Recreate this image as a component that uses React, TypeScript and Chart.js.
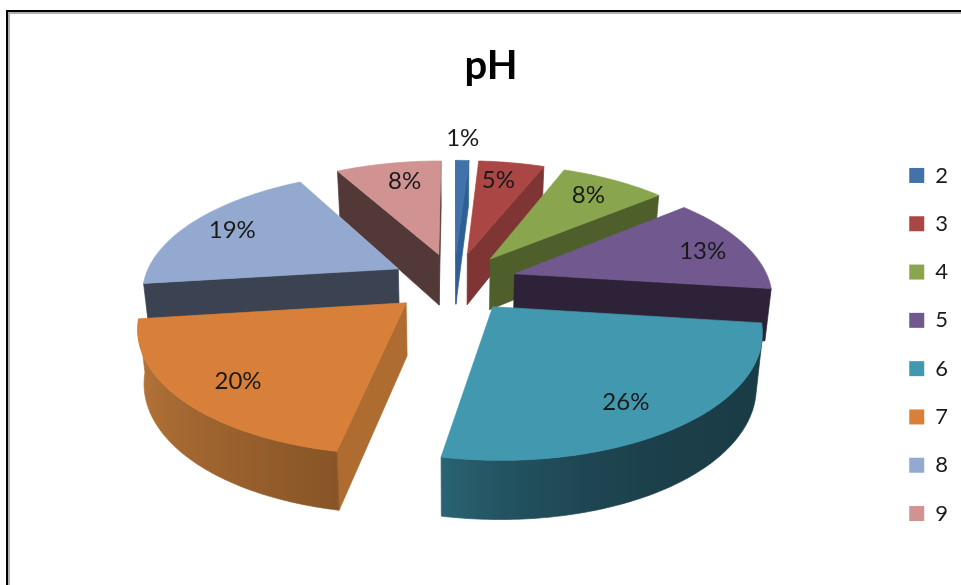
import React, { useEffect, useRef } from "react";
import { Chart, registerables } from "chart.js";

Chart.register(...registerables);

// ---- data ----
const categories = ["2", "3", "4", "5", "6", "7", "8", "9"];
const phShares = [1, 5, 8, 13, 26, 20, 19, 8];
const chartTitle = "pH";

// ---- colours ----
const topColors = ["#4272aa", "#aa4643", "#89a54e", "#71588f", "#4198af", "#d8803a", "#93a9cf", "#d19392"];
const cutColors = ["#2f5f96", "#7f3533", "#4e5f2c", "#2d2238", "#1a3c47", "#ae6c31", "#3b4252", "#533838"];
const wallStartColors = ["#2f5f96", "#7f3533", "#4e5f2c", "#2d2238", "#1a3c47", "#895526", "#3b4252", "#533838"];
const wallEndColors = ["#2f5f96", "#7f3533", "#4e5f2c", "#2d2238", "#2a6373", "#bf7b3d", "#3b4252", "#533838"];
const wallCurve = [1, 1, 1, 1, 4, 1, 1, 1];

// back-to-front painting order of the slices (by category index)
const paintOrder = [7, 0, 1, 2, 3, 6, 5, 4];

// small per-label nudges, in pixels, as the label layout of the original is not quite radial
const labelNudgeX = [-1, -5, -2, 6, -10, 4, -3, 7];
const labelNudgeY = [0, 0, 0, 2, 4, 4, 0, 1];

// ---- 3D view of the pie ----
const VIEW = {
  cx: 454, cy: 282, // centre of the pie on the page
  rx: 255, ry: 118, // projected radius
  persp: 0.17, // perspective strength toward the viewer
  explode: 0.25, // how far each slice is pulled out
  depth: 52, depthPersp: 6, taper: 0.02,
  labelRadius: 0.79, outerLabelRadius: 1.29,
};
const TITLE_SHIFT = 12;
const LEGEND_SHIFT = 52;

type P = [number, number];

function project(X: number, Y: number, z: number): P {
  const w = 1 - VIEW.persp * Y;
  const k = 1 - z * VIEW.taper;
  return [VIEW.cx + (VIEW.rx * X * k) / w, VIEW.cy + (VIEW.ry * Y) / w + z * (VIEW.depth + VIEW.depthPersp * Y)];
}

// angle is the library's canvas angle, which runs clockwise from the top of the pie
function slicePoint(angle: number, r: number, mid: number, z: number): P {
  const X = r * Math.cos(angle) + VIEW.explode * Math.cos(mid);
  const Y = r * Math.sin(angle) + VIEW.explode * Math.sin(mid);
  return project(X, Y, z);
}

function hex(c: string) {
  return [1, 3, 5].map((i) => parseInt(c.slice(i, i + 2), 16));
}
function mix(a: string, b: string, t: number) {
  const A = hex(a), B = hex(b);
  return `rgb(${A.map((v, i) => Math.round(v + (B[i] - v) * t)).join(",")})`;
}

function poly(ctx: CanvasRenderingContext2D, pts: P[], color: any) {
  ctx.beginPath();
  pts.forEach((p, i) => (i ? ctx.lineTo(p[0], p[1]) : ctx.moveTo(p[0], p[1])));
  ctx.closePath();
  ctx.fillStyle = color;
  ctx.strokeStyle = color;
  ctx.lineWidth = 0.7;
  ctx.fill();
  ctx.stroke();
}

function facesViewer(q: P[]) {
  let s = 0;
  for (let i = 0; i < q.length; i++) {
    const a = q[i], b = q[(i + 1) % q.length];
    s += a[0] * b[1] - b[0] * a[1];
  }
  return s < 0;
}

const pie3d = {
  id: "pie3d",
  afterLayout(chart: any) {
    chart.titleBlock.left += TITLE_SHIFT;
    chart.titleBlock.right += TITLE_SHIFT;
    chart.legend.top += LEGEND_SHIFT;
    chart.legend.bottom += LEGEND_SHIFT;
  },
  beforeDatasetDraw() {
    return false; // the arcs are painted by beforeDatasetsDraw below, in perspective
  },
  beforeDatasetsDraw(chart: any) {
    const ctx: CanvasRenderingContext2D = chart.ctx;
    const arcs = chart.getDatasetMeta(0).data;
    ctx.save();
    for (const i of paintOrder) {
      const { startAngle, endAngle } = arcs[i].getProps(["startAngle", "endAngle"], true);
      const mid = (startAngle + endAngle) / 2;
      const steps = Math.max(4, Math.ceil((endAngle - startAngle) * 60));
      const top: P[] = [slicePoint(0, 0, mid, 0)];
      const bottom: P[] = [slicePoint(0, 0, mid, 1)];
      for (let s = 0; s <= steps; s++) {
        const a = startAngle + ((endAngle - startAngle) * s) / steps;
        top.push(slicePoint(a, 1, mid, 0));
        bottom.push(slicePoint(a, 1, mid, 1));
      }
      const n = top.length;
      // hidden faces are skipped; the rest are painted cut faces first, then the rim
      for (const e of [0, n - 1]) {
        const f = (e + 1) % n;
        const q = [top[e], top[f], bottom[f], bottom[e]];
        if (facesViewer(q)) poly(ctx, q, cutColors[i]);
      }
      const seen: number[] = [];
      for (let e = 1; e <= n - 1; e++) {
        if (e < n - 1 && facesViewer([top[e], top[e + 1], bottom[e + 1], bottom[e]])) {
          seen.push(e);
          if (e + 1 === n - 1) seen.push(e + 1);
        } else if (seen.length && seen[seen.length - 1] === e - 1 && e < n) {
          seen.push(e);
        }
      }
      if (seen.length > 1) {
        const x0 = top[seen[0]][0];
        const x1 = top[seen[seen.length - 1]][0];
        const grad = ctx.createLinearGradient(x0, 0, x1, 0);
        for (let s = 0; s <= 12; s++) {
          const e = seen[Math.round(((seen.length - 1) * s) / 12)];
          const t = Math.pow((e - 1) / (n - 2), wallCurve[i]);
          const off = Math.min(1, Math.max(0, (top[e][0] - x0) / (x1 - x0 || 1)));
          grad.addColorStop(off, mix(wallStartColors[i], wallEndColors[i], t));
        }
        const pts = [...seen.map((e) => top[e]), ...seen.slice().reverse().map((e) => bottom[e])];
        poly(ctx, pts, grad);
      }
      poly(ctx, top, arcs[i].options.backgroundColor);
    }
    ctx.restore();
  },
  afterDatasetsDraw(chart: any) {
    const ctx: CanvasRenderingContext2D = chart.ctx;
    const arcs = chart.getDatasetMeta(0).data;
    const total = phShares.reduce((a, b) => a + b, 0);
    ctx.save();
    ctx.font = "24px Lato";
    ctx.fillStyle = "#1a1a1a";
    ctx.textAlign = "center";
    ctx.textBaseline = "middle";
    phShares.forEach((v, i) => {
      const { startAngle, endAngle } = arcs[i].getProps(["startAngle", "endAngle"], true);
      const mid = (startAngle + endAngle) / 2;
      const pct = Math.round((v / total) * 100);
      const r = pct < 2 ? VIEW.outerLabelRadius : VIEW.labelRadius;
      const p = slicePoint(mid, r, mid, 0);
      ctx.fillText(`${pct}%`, p[0] + labelNudgeX[i], p[1] + labelNudgeY[i]);
    });
    ctx.restore();
  },
};

export default function App() {
  const ref = useRef<HTMLCanvasElement>(null);
  useEffect(() => {
    const chart = new Chart(ref.current!, {
      type: "pie",
      data: {
        labels: categories,
        datasets: [{ data: phShares, backgroundColor: topColors, borderWidth: 0 }],
      },
      options: {
        animation: false,
        responsive: false,
        layout: { padding: { right: 24 } },
        plugins: {
          title: {
            display: true,
            text: chartTitle,
            color: "#000000",
            font: { family: "Lato", size: 40, weight: "bold" },
            padding: { top: 42, bottom: 13 },
          },
          legend: {
            position: "right",
            labels: {
              color: "#1a1a1a",
              font: { family: "Lato", size: 22 },
              boxWidth: 15,
              boxHeight: 15,
              padding: 26.3,
            },
          },
          tooltip: { enabled: false },
        },
      },
      plugins: [pie3d],
    } as any);
    return () => chart.destroy();
  }, []);
  return (
    <div style={{ position: "fixed", left: 0, top: 0, width: 961, height: 585, overflow: "hidden", background: "#fff" }}>
      <canvas ref={ref} width={982} height={585} style={{ position: "absolute", left: 0, top: 0 }} />
      <div style={{ position: "absolute", left: 6, top: 10, right: 0, bottom: 0, borderLeft: "2px solid #000", borderTop: "2px solid #000" }}>
        <div style={{ position: "absolute", left: 0, top: 0, right: 0, bottom: 0, borderLeft: "2px solid #b0b0b0", borderTop: "2px solid #b0b0b0" }} />
      </div>
    </div>
  );
}
